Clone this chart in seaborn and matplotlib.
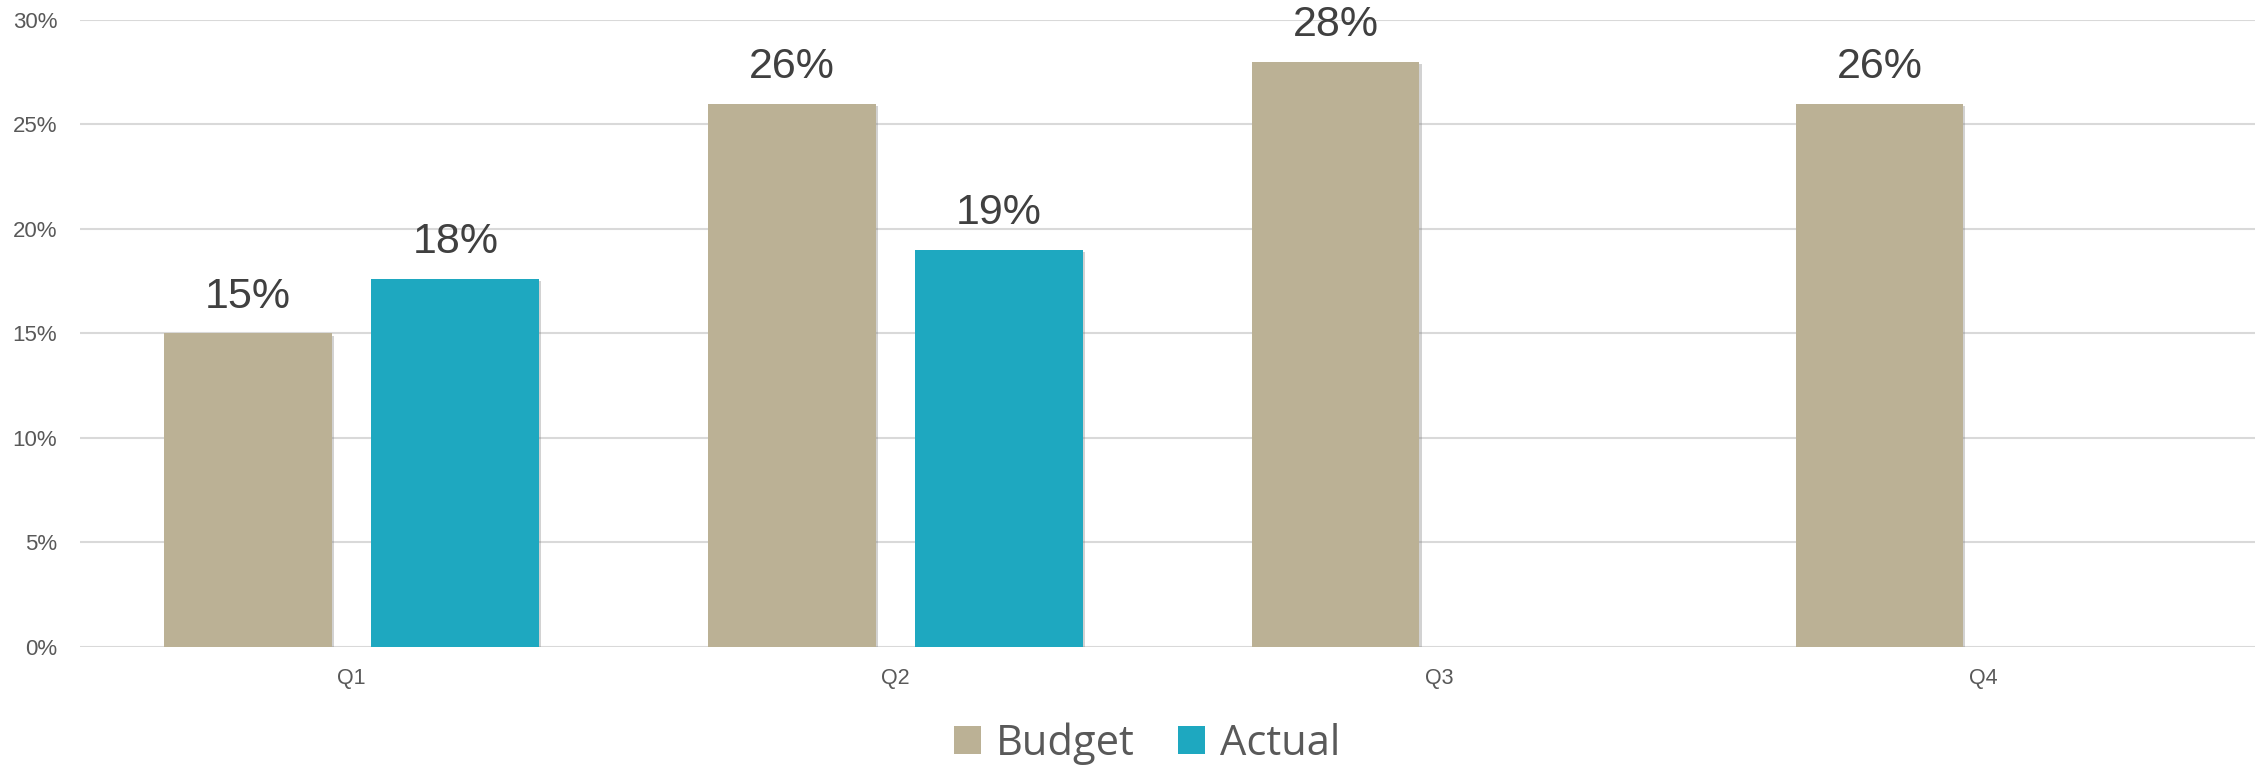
import numpy as np
import pandas as pd
import seaborn as sns
import matplotlib
matplotlib.use("Agg")
import matplotlib.pyplot as plt
import matplotlib.patheffects as pe
from matplotlib.patches import Patch

# Quarterly figures (share, as fractions)
quarters = ["Q1", "Q2", "Q3", "Q4"]
budget = [0.15, 0.26, 0.28, 0.26]
actual = [0.176, 0.19, np.nan, np.nan]
series_names = ["Budget", "Actual"]
series_colors = ["#BBB195", "#1EA8C0"]
y_ticks = [0.0, 0.05, 0.10, 0.15, 0.20, 0.25, 0.30]

df = pd.DataFrame({
    "quarter": quarters * 2,
    "series": [series_names[0]] * 4 + [series_names[1]] * 4,
    "value": budget + actual,
})

sns.set_theme(style="white")
plt.rcParams["font.family"] = ["Liberation Sans", "DejaVu Sans"]

fig = plt.figure(figsize=(22.67, 7.68), dpi=100)
ax = fig.add_axes([0.0351, 0.1576, 0.9597, 0.8164])

sns.barplot(
    data=df, x="quarter", y="value", hue="series",
    order=quarters, hue_order=series_names,
    palette=series_colors, width=0.763, gap=0.192,
    saturation=1, linewidth=0, legend=False, ax=ax, zorder=3,
)

shadow = [pe.SimplePatchShadow(offset=(1.5, -1.5), shadow_rgbFace="#7f7f7f", alpha=0.35), pe.Normal()]
for patch in ax.patches:
    patch.set_path_effects(shadow)

for cont in ax.containers:
    labels = ["" if np.isnan(v) else f"{v * 100:.0f}%" for v in cont.datavalues]
    ax.bar_label(cont, labels=labels, padding=12, fontsize=31, color="#404040", clip_on=False)

ax.set_ylim(0, 0.30)
ax.set_xlim(-0.5, 3.5)
ax.set_yticks(y_ticks)
ax.set_yticklabels([f"{t * 100:.0f}%" for t in y_ticks])
ax.yaxis.grid(True, color="#D9D9D9", linewidth=1.5, zorder=0)
ax.xaxis.grid(False)
ax.set_axisbelow(True)
for s in ax.spines.values():
    s.set_visible(False)
ax.tick_params(axis="y", length=0, pad=16, labelsize=16, labelcolor="#595959")
ax.tick_params(axis="x", length=0, pad=15, labelsize=15.5, labelcolor="#595959")
ax.set_xlabel("")
ax.set_ylabel("")

handles = [Patch(facecolor=c, edgecolor="none", label=n) for n, c in zip(series_names, series_colors)]
leg = fig.legend(
    handles=handles, loc="center", bbox_to_anchor=(0.506, 0.032), ncol=2,
    frameon=False, handlelength=0.65, handleheight=0.65,
    handletextpad=0.35, columnspacing=1.05,
    prop={"family": ["Open Sans", "DejaVu Sans"], "size": 30},
)
for t in leg.get_texts():
    t.set_color("#595959")

fig.savefig("out.png", dpi=100, facecolor="white")
